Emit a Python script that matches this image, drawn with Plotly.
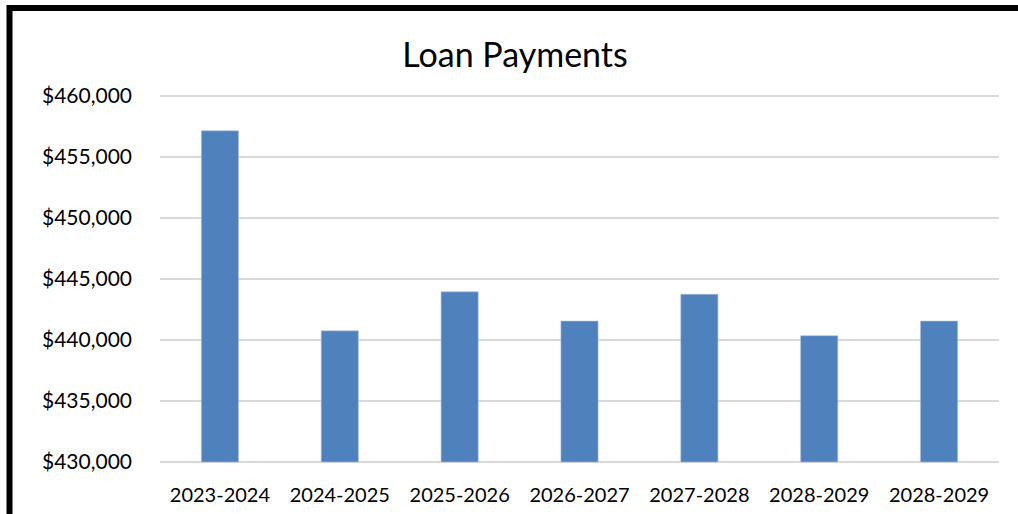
import plotly.graph_objects as go

# Fiscal-year periods and annual loan payments
periods = ["2023-2024", "2024-2025", "2025-2026", "2026-2027", "2027-2028", "2028-2029", "2028-2029"]
payments = [457150, 440750, 443950, 441550, 443750, 440350, 441550]

y_ticks = [430000, 435000, 440000, 445000, 450000, 455000, 460000]
y_tick_text = ["$430,000", "$435,000", "$440,000", "$445,000", "$450,000", "$455,000", "$460,000"]
y_floor = y_ticks[0]

W, H = 1018, 514
ML, MR, MT, MB = 160, 19, 93, 49
PW, PH = W - ML - MR, H - MT - MB

# positions are numeric so that repeated period labels stay as separate bars
xpos = list(range(len(periods)))

# bars rise from the axis floor rather than from zero
fig = go.Figure(
    go.Bar(
        x=xpos,
        y=[p - y_floor for p in payments],
        base=[y_floor] * len(payments),
        width=0.31,
        marker=dict(color="#4f81bd", line=dict(color="#a9c0de", width=0.6)),
        hoverinfo="skip",
    )
)

font_family = "Lato, Carlito, Calibri, sans-serif"

# frame lines along the left and top edges of the chart area
def px_to_paper_x(px):
    return (px - ML) / PW

def px_to_paper_y(py):
    return 1 - (py - MT) / PH

fig.add_shape(type="line", xref="paper", yref="paper",
              x0=px_to_paper_x(9.5), x1=px_to_paper_x(9.5),
              y0=px_to_paper_y(5), y1=px_to_paper_y(H + 5),
              line=dict(color="black", width=6), layer="above")
fig.add_shape(type="line", xref="paper", yref="paper",
              x0=px_to_paper_x(7), x1=px_to_paper_x(W + 5),
              y0=px_to_paper_y(8), y1=px_to_paper_y(8),
              line=dict(color="black", width=6), layer="above")

# a few pixels of padding keep the end gridlines from being clipped
pad = 3 * 30000 / (PH - 6)

fig.update_layout(
    width=W,
    height=H,
    margin=dict(l=ML, r=MR, t=MT, b=MB),
    paper_bgcolor="white",
    plot_bgcolor="white",
    showlegend=False,
    title=dict(
        text="Loan Payments",
        x=515 / W, xref="container", xanchor="center",
        y=1 - 55 / H, yref="container", yanchor="middle",
        font=dict(family=font_family, size=34, color="black"),
    ),
    xaxis=dict(
        tickmode="array",
        tickvals=xpos,
        ticktext=periods,
        range=[-0.5, len(periods) - 0.5],
        showgrid=False,
        zeroline=False,
        showline=False,
        ticks="",
        ticklabelstandoff=16,
        tickfont=dict(family=font_family, size=20, color="black"),
        automargin=False,
        fixedrange=True,
    ),
    yaxis=dict(
        range=[y_floor - pad, y_ticks[-1] + pad],
        tickmode="array",
        tickvals=y_ticks,
        ticktext=y_tick_text,
        showgrid=True,
        gridcolor="#d9d9d9",
        gridwidth=2,
        zeroline=False,
        showline=False,
        ticks="",
        ticklabelstandoff=27,
        tickfont=dict(family=font_family, size=21, color="black"),
        automargin=False,
        fixedrange=True,
    ),
)

fig.write_html("out.html")
